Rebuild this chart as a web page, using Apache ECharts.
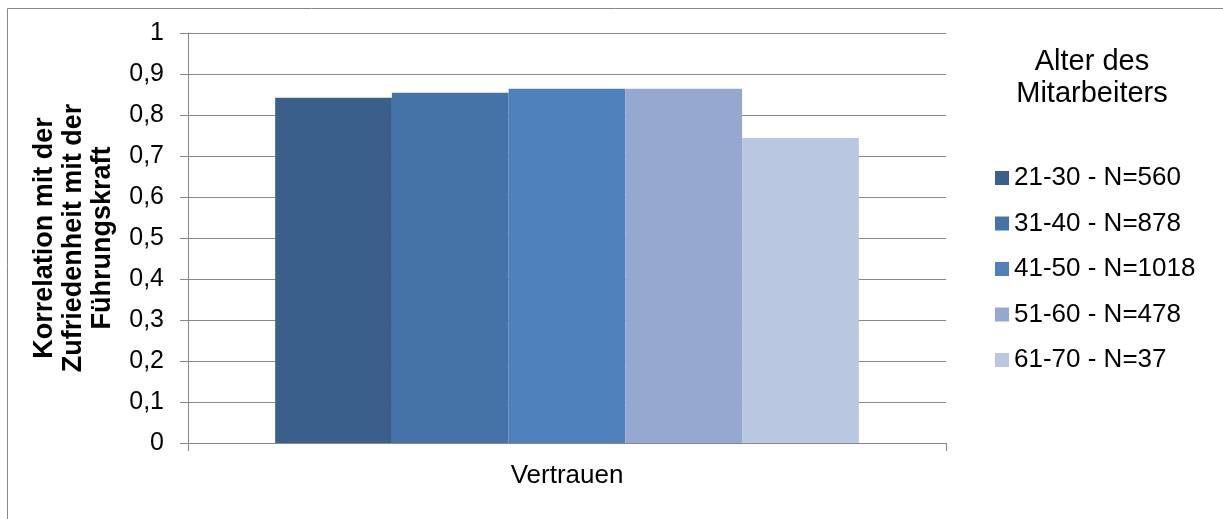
<!DOCTYPE html>
<html>
<head>
<meta charset="utf-8">
<script src="https://cdn.jsdelivr.net/npm/echarts@6/dist/echarts.min.js"></script>
<style>
  html, body { margin: 0; padding: 0; background: #fff; }
  #chart { width: 1223px; height: 519px; }
</style>
</head>
<body>
<div id="chart"></div>
<script>
// Korrelation von Vertrauen mit der Zufriedenheit mit der Führungskraft, nach Altersgruppe
const categories = ['Vertrauen'];
const groupNames = ['21-30 - N=560', '31-40 - N=878', '41-50 - N=1018', '51-60 - N=478', '61-70 - N=37'];
const groupValues = [0.842, 0.854, 0.864, 0.864, 0.744];
const groupColors = ['#3A5F8B', '#4573A7', '#4F81BD', '#95A9D0', '#B9C7E0'];
const yTickLabels = ['0', '0,1', '0,2', '0,3', '0,4', '0,5', '0,6', '0,7', '0,8', '0,9', '1'];

const FONT = '"Liberation Sans", Arial, sans-serif';
const AXIS_GRAY = '#888888';

const chart = echarts.init(document.getElementById('chart'), null, { renderer: 'canvas' });

const series = groupNames.map((name, i) => ({
  name: name,
  type: 'bar',
  data: [groupValues[i]],
  barGap: '0%',
  barCategoryGap: '23%',
  itemStyle: { color: groupColors[i] },
  emphasis: { disabled: true }
}));

chart.setOption({
  animation: false,
  backgroundColor: '#ffffff',
  textStyle: { fontFamily: FONT },
  title: {
    text: 'Alter des\nMitarbeiters',
    left: 1092,
    top: 46,
    padding: 0,
    textAlign: 'center',
    textStyle: { fontFamily: FONT, fontSize: 29, fontWeight: 'normal', color: '#000', lineHeight: 32 }
  },
  legend: {
    orient: 'vertical',
    left: 995,
    top: 165,
    padding: 0,
    itemWidth: 14,
    itemHeight: 14,
    itemGap: 19.5,
    icon: 'rect',
    textStyle: { fontFamily: FONT, fontSize: 26, color: '#000' },
    data: groupNames
  },
  grid: { left: 188, right: 277, top: 33, bottom: 76, containLabel: false },
  xAxis: {
    type: 'category',
    data: categories,
    axisLine: { lineStyle: { color: AXIS_GRAY, width: 1 } },
    axisTick: { show: true, length: 8, lineStyle: { color: AXIS_GRAY } },
    axisLabel: { fontFamily: FONT, fontSize: 26, color: '#000', margin: 20 }
  },
  yAxis: {
    type: 'value',
    min: 0,
    max: 1,
    interval: 0.1,
    name: 'Korrelation mit der\nZufriedenheit mit der\nFührungskraft',
    nameLocation: 'middle',
    nameGap: 71,
    nameTextStyle: { fontFamily: FONT, fontSize: 27, fontWeight: 'bold', color: '#000', lineHeight: 29 },
    axisLine: { show: true, lineStyle: { color: AXIS_GRAY, width: 1 } },
    axisTick: { show: true, length: 8, lineStyle: { color: AXIS_GRAY } },
    axisLabel: {
      fontFamily: FONT, fontSize: 25, color: '#000', margin: 24,
      formatter: (v) => yTickLabels[Math.round(v * 10)]
    },
    splitLine: { show: true, lineStyle: { color: AXIS_GRAY, width: 1 } }
  },
  graphic: [{
    type: 'rect',
    z: -10,
    silent: true,
    shape: { x: 7.5, y: 8.5, width: 1400, height: 700 },
    style: { fill: 'none', stroke: AXIS_GRAY, lineWidth: 1 }
  }],
  series: series
});
</script>
</body>
</html>
